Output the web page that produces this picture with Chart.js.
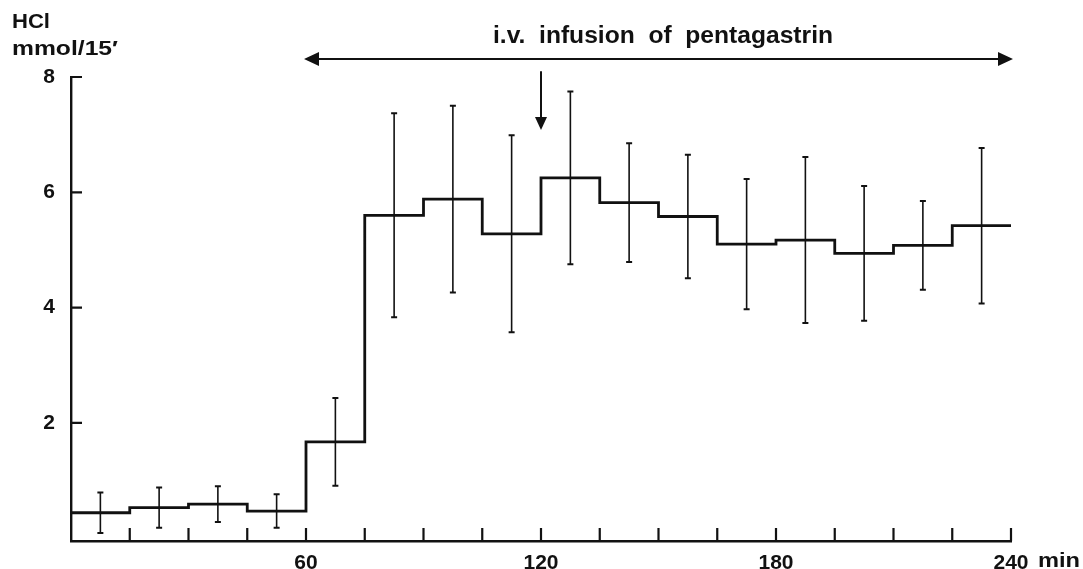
<!DOCTYPE html>
<html>
<head>
<meta charset="utf-8">
<script src="https://cdn.jsdelivr.net/npm/chart.js@4.4.1/dist/chart.umd.min.js"></script>
<style>
  html, body { margin: 0; padding: 0; background: #fff; }
  #wrap { width: 1083px; height: 569px; position: relative; }
</style>
</head>
<body>
<div id="wrap"><canvas id="hclChart"></canvas></div>
<script>
// 15-minute collection periods (start of each period, min)
const periodStart = [0, 15, 30, 45, 60, 75, 90, 105, 120, 135, 150, 165, 180, 195, 210, 225];
// HCl output, mmol/15'
const hclMean = [0.44, 0.53, 0.59, 0.47, 1.67, 5.60, 5.88, 5.28, 6.25, 5.82, 5.58, 5.10, 5.17, 4.94, 5.08, 5.42];
// error bar half-lengths
const hclErr = [0.35, 0.35, 0.31, 0.29, 0.76, 1.77, 1.62, 1.71, 1.50, 1.03, 1.07, 1.13, 1.44, 1.17, 0.77, 1.35];

const xTickValues = [60, 120, 180, 240];
const yTickValues = [2, 4, 6, 8];
const periodLength = 15;
const infusionStart = 60;
const infusionEnd = 240;
const markerMinute = 120;

// step line: one point per period start, plus the end of the last period
const stepPoints = periodStart.map((t, i) => ({ x: t, y: hclMean[i] }));
stepPoints.push({ x: periodStart[periodStart.length - 1] + periodLength, y: hclMean[hclMean.length - 1] });

const fontFamily = "'Liberation Sans', Arial, sans-serif";

// draw text squeezed/stretched to a given width
function fitText(ctx, text, x, y, width) {
    const w = ctx.measureText(text).width;
    ctx.save();
    ctx.translate(x, y);
    ctx.scale(width / w, 1);
    ctx.textAlign = 'left';
    ctx.fillText(text, 0, 0);
    ctx.restore();
}

const annotations = {
    id: 'annotations',
    afterDatasetsDraw(chart) {
        const { ctx, chartArea, scales } = chart;
        const xs = scales.x, ys = scales.y;
        ctx.save();
        ctx.strokeStyle = '#111';
        ctx.fillStyle = '#111';

        // error bars at the middle of each period
        periodStart.forEach((t, i) => {
            const px = xs.getPixelForValue(t + periodLength / 2);
            const top = ys.getPixelForValue(hclMean[i] + hclErr[i]);
            const bot = ys.getPixelForValue(hclMean[i] - hclErr[i]);
            ctx.lineWidth = 1.6;
            ctx.beginPath();
            ctx.moveTo(px, top); ctx.lineTo(px, bot);
            ctx.stroke();
            ctx.lineWidth = 2;
            ctx.beginPath();
            ctx.moveTo(px - 3, top); ctx.lineTo(px + 3, top);
            ctx.moveTo(px - 3, bot); ctx.lineTo(px + 3, bot);
            ctx.stroke();
        });

        // inward ticks
        ctx.lineWidth = 2.2;
        ctx.beginPath();
        for (let t = periodLength; t <= infusionEnd; t += periodLength) {
            const px = xs.getPixelForValue(t);
            ctx.moveTo(px, chartArea.bottom);
            ctx.lineTo(px, chartArea.bottom - 13);
        }
        yTickValues.forEach(v => {
            const py = ys.getPixelForValue(v);
            ctx.moveTo(chartArea.left, py);
            ctx.lineTo(chartArea.left + 11, py);
        });
        ctx.stroke();

        // axis title + unit
        ctx.font = 'bold 20px ' + fontFamily;
        ctx.textBaseline = 'alphabetic';
        fitText(ctx, 'HCl', 12, 28, 38);
        fitText(ctx, 'mmol/15\u2032', 12, 55, 106);
        ctx.font = 'bold 21px ' + fontFamily;
        fitText(ctx, 'min', xs.getPixelForValue(infusionEnd) + 27, 567, 42);

        // infusion double arrow
        const ax1 = xs.getPixelForValue(infusionStart);
        const ax2 = xs.getPixelForValue(infusionEnd);
        const ay = chartArea.top - 18;
        ctx.lineWidth = 2.2;
        ctx.beginPath();
        ctx.moveTo(ax1 + 8, ay); ctx.lineTo(ax2 - 8, ay);
        ctx.stroke();
        ctx.beginPath();
        ctx.moveTo(ax1 - 2, ay); ctx.lineTo(ax1 + 13, ay - 7); ctx.lineTo(ax1 + 13, ay + 7); ctx.closePath();
        ctx.moveTo(ax2 + 2, ay); ctx.lineTo(ax2 - 13, ay - 7); ctx.lineTo(ax2 - 13, ay + 7); ctx.closePath();
        ctx.fill();

        ctx.font = 'bold 23px ' + fontFamily;
        fitText(ctx, 'i.v.  infusion  of  pentagastrin', 493, 43, 340);

        // marker arrow at 120 min
        const mx = xs.getPixelForValue(markerMinute);
        const mTop = ys.getPixelForValue(8.1);
        const mBot = ys.getPixelForValue(7.08);
        ctx.lineWidth = 2;
        ctx.beginPath();
        ctx.moveTo(mx, mTop); ctx.lineTo(mx, mBot - 10);
        ctx.stroke();
        ctx.beginPath();
        ctx.moveTo(mx, mBot); ctx.lineTo(mx - 6, mBot - 13); ctx.lineTo(mx + 6, mBot - 13); ctx.closePath();
        ctx.fill();

        ctx.restore();
    }
};

new Chart(document.getElementById('hclChart'), {
    type: 'line',
    data: {
        datasets: [{
            data: stepPoints,
            stepped: true,
            borderColor: '#111',
            borderWidth: 2.8,
            pointRadius: 0,
            fill: false
        }]
    },
    options: {
        responsive: true,
        maintainAspectRatio: false,
        animation: false,
        layout: { padding: { left: 0, right: 72, top: 77, bottom: 0 } },
        plugins: { legend: { display: false }, tooltip: { enabled: false } },
        scales: {
            x: {
                type: 'linear',
                min: 0,
                max: 240,
                afterBuildTicks: s => { s.ticks = xTickValues.map(v => ({ value: v })); },
                afterFit: s => { s.height = 28; },
                grid: { display: false },
                border: { display: true, color: '#111', width: 2.4 },
                ticks: { color: '#111', font: { family: fontFamily, size: 21, weight: 'bold' }, padding: 2, maxRotation: 0 }
            },
            y: {
                min: -0.05,
                max: 8,
                afterBuildTicks: s => { s.ticks = yTickValues.map(v => ({ value: v })); },
                afterFit: s => { s.width = 71; },
                grid: { display: false },
                border: { display: true, color: '#111', width: 2.4 },
                ticks: { color: '#111', font: { family: fontFamily, size: 21, weight: 'bold' }, padding: 8 }
            }
        }
    },
    plugins: [annotations]
});
</script>
</body>
</html>
